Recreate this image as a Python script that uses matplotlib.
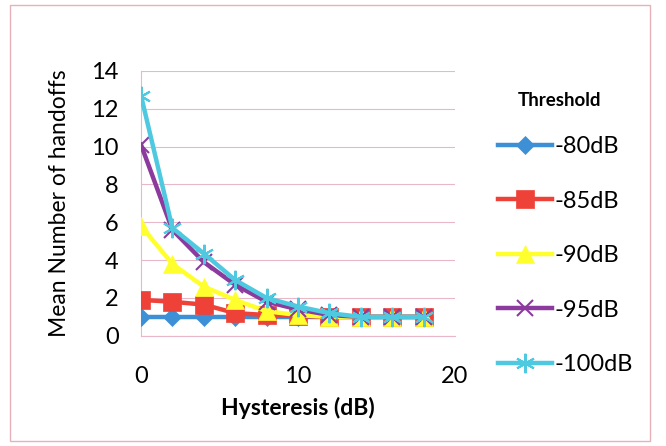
import matplotlib
matplotlib.use('Agg')
import matplotlib.pyplot as plt
from matplotlib.patches import Rectangle

# data
hysteresis = [0, 2, 4, 6, 8, 10, 12, 14, 16, 18]
thr_80 = [1.0, 1.0, 1.0, 1.0, 1.0, 1.0, 1.0, 1.0, 1.0, 1.0]
thr_85 = [1.9, 1.8, 1.65, 1.2, 1.1, 1.05, 1.0, 1.0, 1.0, 1.0]
thr_90 = [5.8, 3.8, 2.6, 1.9, 1.3, 1.1, 1.0, 1.0, 1.0, 1.0]
thr_95 = [10.1, 5.6, 3.9, 2.7, 1.8, 1.4, 1.1, 1.0, 1.0, 1.0]
thr_100 = [12.7, 5.7, 4.35, 2.95, 2.0, 1.55, 1.2, 1.0, 1.0, 1.0]
labels = ['-80dB', '-85dB', '-90dB', '-95dB', '-100dB']

series = [thr_80, thr_85, thr_90, thr_95, thr_100]
colors = ['#3d8fd6', '#ee4238', '#ffff2e', '#8c3a9e', '#4fc9e0']
markers = ['D', 's', '^', 'x', (6, 2, 0)]
msizes = [9, 13, 13, 12, 14]

plt.rcParams['font.family'] = ['Lato', 'DejaVu Sans']

fig = plt.figure(figsize=(6.66, 4.46), dpi=100)
ax = fig.add_axes([0.2117, 0.247, 0.4715, 0.594])

for ys, c, m, ms, lab in zip(series, colors, markers, msizes, labels):
    ax.plot(hysteresis, ys, color=c, lw=3.2, marker=m, markersize=ms,
            markeredgewidth=1.5 if m == 'x' or isinstance(m, tuple) else 0.5,
            markeredgecolor=c, label=lab, zorder=3)

ax.set_xlim(0, 20)
ax.set_ylim(0, 14)
ax.set_xticks([0, 10, 20])
ax.set_yticks(range(0, 15, 2))
ax.tick_params(length=0, labelsize=17)
ax.tick_params(axis='y', pad=16)
ax.tick_params(axis='x', pad=22)
ax.grid(axis='y', color='#e8b8c8', lw=0.8)
for s in ['top', 'right']:
    ax.spines[s].set_visible(False)
for s in ['left', 'bottom']:
    ax.spines[s].set_color('#e8b8c8')
    ax.spines[s].set_linewidth(0.8)

ax.set_xlabel('Hysteresis (dB)', fontsize=16.5, fontweight='bold', labelpad=7)
ax.set_ylabel('Mean Number of handoffs', fontsize=16.5, labelpad=15)

fig.text(518 / 666, 1 - 100 / 446, 'Threshold', fontsize=13.5,
         fontweight='bold', ha='left', va='center')

leg = fig.legend(loc='upper left', bbox_to_anchor=(498 / 666, 1 - 136 / 446),
                 frameon=False, fontsize=17,
                 handlelength=2.3, handletextpad=0.1, labelspacing=1.42,
                 borderaxespad=0, borderpad=0)

# chart-area border
fig.patches.append(Rectangle((10 / 666, 5 / 446), 640 / 666, 436 / 446,
                             transform=fig.transFigure, fill=False,
                             edgecolor='#e8b0b8', lw=1.0))

plt.savefig('out.png', dpi=100, facecolor='white')
plt.close()
